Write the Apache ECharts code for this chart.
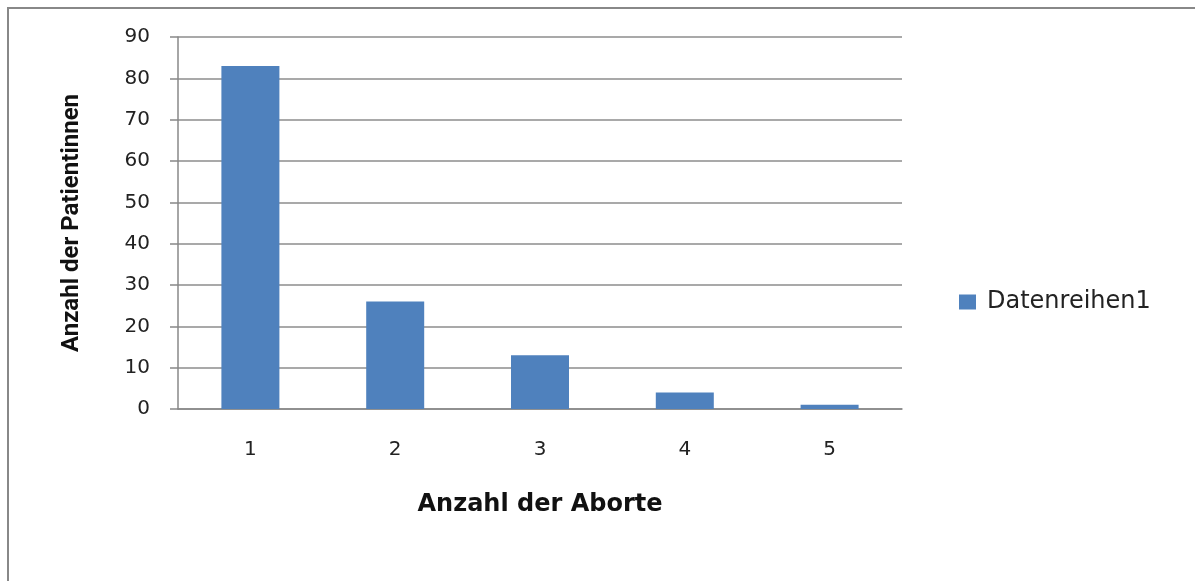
<!DOCTYPE html>
<html lang="de">
<head>
    <meta charset="UTF-8">
    <title>Anzahl der Aborte</title>
    <script src="https://cdn.jsdelivr.net/npm/echarts@6/dist/echarts.min.js"></script>
    <style>
        html, body { margin: 0; padding: 0; background: #fff; }
    </style>
</head>
<body>
<div id="chart" style="width: 1195px;height:581px;"></div>
<script>
    const categories = ['1', '2', '3', '4', '5'];
    const patientinnen = [83, 26, 13, 4, 1];
    const seriesName = 'Datenreihen1';

    let chart = echarts.init(document.getElementById('chart'));
    chart.setOption({
        animation: false,
        graphic: [{
            type: 'polyline',
            shape: {points: [[8, 581], [8, 8], [1195, 8]]},
            style: {stroke: '#888', lineWidth: 2, fill: null}
        }],
        legend: {
            data: [seriesName],
            left: 954,
            top: 285,
            icon: 'rect',
            itemWidth: 17,
            itemHeight: 15,
            itemGap: 10,
            textStyle: {fontFamily: 'DejaVu Sans', fontSize: 24, color: '#222', padding: [0, 0, 0, 6]}
        },
        grid: {
            left: 178,
            right: 293,
            top: 37,
            bottom: 172
        },
        xAxis: {
            type: 'category',
            data: categories,
            name: 'Anzahl der Aborte',
            nameLocation: 'middle',
            nameGap: 84,
            nameTextStyle: {fontFamily: 'DejaVu Sans', fontWeight: 'bold', fontSize: 24, color: '#111'},
            axisLine: {lineStyle: {color: '#888', width: 1.5}},
            axisTick: {length: 10, lineStyle: {color: '#888', width: 1.5}},
            axisLabel: {fontFamily: 'DejaVu Sans', fontSize: 20, color: '#222', margin: 31}
        },
        yAxis: {
            type: 'value',
            min: 0,
            max: 90,
            interval: 10,
            name: 'Anzahl der Patientinnen',
            nameLocation: 'middle',
            nameGap: 94,
            nameTextStyle: {fontFamily: 'Roboto', fontWeight: 'bold', fontSize: 24, color: '#111'},
            axisLine: {show: true, lineStyle: {color: '#888', width: 1.5}},
            axisTick: {show: true, length: 8, lineStyle: {color: '#888', width: 1.5}},
            axisLabel: {fontFamily: 'DejaVu Sans', fontSize: 20, color: '#222', margin: 28},
            splitLine: {lineStyle: {color: '#8c8c8c', width: 1.5}}
        },
        series: [{
            name: seriesName,
            type: 'bar',
            data: patientinnen,
            barWidth: 58,
            itemStyle: {color: '#4f81bd'}
        }]
    });
</script>
</body>
</html>
